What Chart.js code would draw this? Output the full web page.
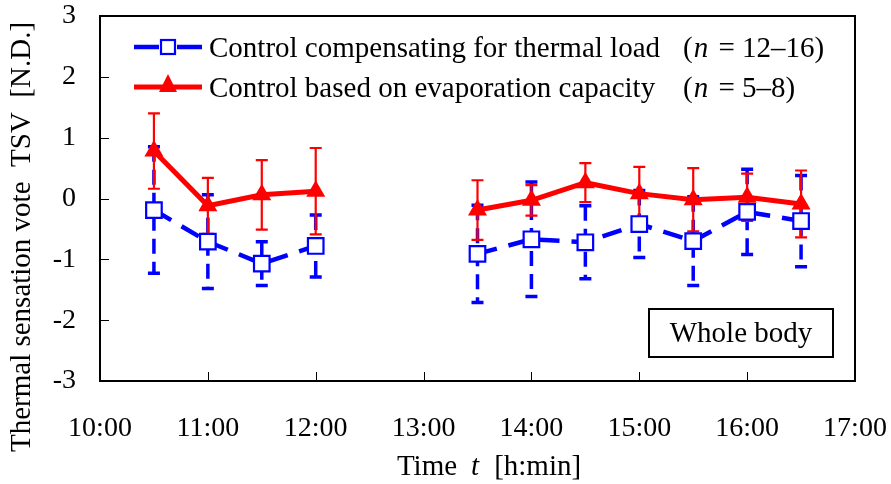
<!DOCTYPE html>
<html>
<head>
<meta charset="utf-8">
<script src="https://cdn.jsdelivr.net/npm/chart.js@4.4.1/dist/chart.umd.min.js"></script>
<style>
  html, body { margin: 0; padding: 0; background: #ffffff; }
  #wrap { width: 891px; height: 484px; position: relative; }
</style>
</head>
<body>
<div id="wrap"><canvas id="c" width="891" height="484"></canvas></div>
<script>
// ---- data ----
const times = ['10:30','11:00','11:30','12:00','13:30','14:00','14:30','15:00','15:30','16:00','16:30'];
const blueMean = [-0.19, -0.71, -1.07, -0.78, -0.91, -0.67, -0.72, -0.42, -0.70, -0.22, -0.37];
const blueSD   = [ 1.04,  0.77,  0.36,  0.51,  0.80,  0.94,  0.60,  0.55,  0.73,  0.70,  0.75];
const redMean  = [ 0.78, -0.12,  0.06,  0.12, -0.19, -0.03,  0.26,  0.08, -0.02,  0.02, -0.09];
const redSD    = [ 0.62,  0.46,  0.57,  0.71,  0.49,  0.25,  0.32,  0.44,  0.52,  0.39,  0.55];
const xTicks = ['10:00','11:00','12:00','13:00','14:00','15:00','16:00','17:00'];
const yTicks = [-3, -2, -1, 0, 1, 2, 3];
const blueLabel = 'Control compensating for thermal load';
const redLabel = 'Control based on evaporation capacity';
const blueN = ' = 12\u201316)';
const redN = ' = 5\u20138)';
const panelLabel = 'Whole body';
const yTitle = 'Thermal sensation vote  TSV  [N.D.]';

const FONT = '"Liberation Serif", "Times New Roman", serif';
const BLUE = '#0000ff';
const RED = '#ff0000';

function toHours(s) { const p = s.split(':'); return +p[0] + (+p[1]) / 60; }
function fmtHour(v) { const h = Math.floor(v); const m = Math.round((v - h) * 60); return h + ':' + (m < 10 ? '0' + m : m); }
const xs = times.map(toHours);
const xMin = toHours(xTicks[0]), xMax = toHours(xTicks[xTicks.length - 1]);

const bluePts = xs.map((x, i) => ({ x: x, y: blueMean[i] }));
const redPts = xs.map((x, i) => ({ x: x, y: redMean[i] }));

function gapColor(color) {
  return ctx => (ctx.p1.parsed.x - ctx.p0.parsed.x > 1.01 ? 'rgba(0,0,0,0)' : color);
}
function noPad(s) { s.paddingTop = 0; s.paddingBottom = 0; s.paddingLeft = 0; s.paddingRight = 0; }

const errorBars = {
  id: 'errorBars',
  beforeDatasetsDraw(chart) {
    const { ctx, scales: { x, y } } = chart;
    const draw = (means, sds, color, width, dash, cap, capW) => {
      ctx.save();
      ctx.strokeStyle = color;
      for (let i = 0; i < xs.length; i++) {
        const px = x.getPixelForValue(xs[i]);
        const top = y.getPixelForValue(means[i] + sds[i]);
        const bot = y.getPixelForValue(means[i] - sds[i]);
        ctx.lineWidth = width;
        ctx.setLineDash(dash);
        ctx.beginPath(); ctx.moveTo(px, top); ctx.lineTo(px, bot); ctx.stroke();
        ctx.setLineDash([]);
        ctx.lineWidth = capW;
        ctx.beginPath();
        ctx.moveTo(px - cap, top); ctx.lineTo(px + cap, top);
        ctx.moveTo(px - cap, bot); ctx.lineTo(px + cap, bot);
        ctx.stroke();
      }
      ctx.restore();
    };
    draw(blueMean, blueSD, BLUE, 3.5, [15, 8], 6, 3.5);
    draw(redMean, redSD, RED, 2.2, [], 6, 2.2);
  }
};

const decor = {
  id: 'decor',
  afterDraw(chart) {
    const { ctx, chartArea: a, scales: { x, y } } = chart;
    ctx.save();
    // frame top & right
    ctx.strokeStyle = '#000'; ctx.lineWidth = 2;
    ctx.beginPath();
    ctx.moveTo(a.left, a.top); ctx.lineTo(a.right, a.top); ctx.lineTo(a.right, a.bottom);
    ctx.stroke();
    // inner ticks
    ctx.lineWidth = 1;
    ctx.beginPath();
    yTicks.forEach(v => {
      if (v === yTicks[0] || v === yTicks[yTicks.length - 1]) return;
      const py = Math.round(y.getPixelForValue(v)) + 0.5;
      ctx.moveTo(a.left, py); ctx.lineTo(a.left + 9, py);
    });
    xTicks.forEach((t, i) => {
      if (i === 0 || i === xTicks.length - 1) return;
      const px = Math.round(x.getPixelForValue(toHours(t))) + 0.5;
      ctx.moveTo(px, a.bottom); ctx.lineTo(px, a.bottom - 9);
    });
    ctx.stroke();

    // legend
    const lx0 = 134, lx1 = 202, mx = 168, ry1 = 47, ry2 = 87;
    ctx.lineWidth = 4.5; ctx.strokeStyle = BLUE;
    ctx.beginPath(); ctx.moveTo(lx0, ry1); ctx.lineTo(mx - 9, ry1); ctx.moveTo(mx + 9, ry1); ctx.lineTo(lx1, ry1); ctx.stroke();
    ctx.lineWidth = 2.2; ctx.fillStyle = '#fff';
    ctx.fillRect(mx - 7, ry1 - 7, 14, 14); ctx.strokeRect(mx - 7, ry1 - 7, 14, 14);
    ctx.lineWidth = 5; ctx.strokeStyle = RED;
    ctx.beginPath(); ctx.moveTo(lx0, ry2); ctx.lineTo(lx1, ry2); ctx.stroke();
    ctx.fillStyle = RED;
    ctx.beginPath(); ctx.moveTo(mx, ry2 - 13); ctx.lineTo(mx + 9, ry2 + 5); ctx.lineTo(mx - 9, ry2 + 5); ctx.closePath(); ctx.fill();

    ctx.fillStyle = '#000';
    ctx.textBaseline = 'alphabetic';
    const LF = '29px ' + FONT;
    ctx.font = LF;
    const tx = 209, nx = 683;
    ctx.fillText(blueLabel, tx, ry1 + 10);
    ctx.fillText(redLabel, tx, ry2 + 10);
    const drawN = (rest, yy) => {
      ctx.font = LF;
      ctx.fillText('(', nx, yy);
      let w = ctx.measureText('(').width;
      ctx.font = 'italic ' + LF;
      ctx.fillText('n', nx + w + 1, yy);
      w += ctx.measureText('n').width + 1;
      ctx.font = LF;
      ctx.fillText(rest, nx + w + 3, yy);
    };
    drawN(blueN, ry1 + 10);
    drawN(redN, ry2 + 10);

    // panel label box
    ctx.lineWidth = 2; ctx.strokeStyle = '#000';
    ctx.fillStyle = '#fff';
    ctx.fillRect(649, 309, 184, 48);
    ctx.strokeRect(649, 309, 184, 48);
    ctx.fillStyle = '#000';
    ctx.textAlign = 'center'; ctx.textBaseline = 'middle';
    ctx.font = '29px ' + FONT;
    ctx.fillText(panelLabel, 741, 334);

    // y title
    ctx.save();
    ctx.translate(22, 237);
    ctx.rotate(-Math.PI / 2);
    ctx.font = '29px ' + FONT;
    ctx.fillText(yTitle, 0, 0);
    ctx.restore();

    // x title: Time  t  [h:min]
    ctx.textAlign = 'left'; ctx.textBaseline = 'alphabetic';
    const parts = [['Time', ''], ['t', 'italic '], ['[h:min]', '']];
    const gaps = [14, 15];
    let total = 0;
    parts.forEach((p, i) => { ctx.font = p[1] + '29px ' + FONT; total += ctx.measureText(p[0]).width + (i < gaps.length ? gaps[i] : 0); });
    let cx = 489 - total / 2;
    parts.forEach((p, i) => {
      ctx.font = p[1] + '29px ' + FONT;
      ctx.fillText(p[0], cx, 475);
      cx += ctx.measureText(p[0]).width + (i < gaps.length ? gaps[i] : 0);
    });
    ctx.restore();
  }
};

new Chart(document.getElementById('c'), {
  type: 'line',
  data: {
    datasets: [
      {
        label: blueLabel,
        data: bluePts,
        order: 1,
        borderColor: BLUE,
        borderWidth: 4.5,
        borderDash: [20, 12],
        segment: { borderColor: gapColor(BLUE) },
        pointStyle: 'rect',
        pointRadius: 11,
        pointBorderWidth: 2.2,
        pointBackgroundColor: '#ffffff',
        pointBorderColor: BLUE,
        tension: 0
      },
      {
        label: redLabel,
        data: redPts,
        order: 0,
        borderColor: RED,
        borderWidth: 5,
        segment: { borderColor: gapColor(RED) },
        pointStyle: 'triangle',
        pointRadius: 11,
        pointBorderWidth: 0,
        pointBackgroundColor: RED,
        pointBorderColor: RED,
        tension: 0
      }
    ]
  },
  options: {
    responsive: false,
    animation: false,
    devicePixelRatio: 1,
    layout: { padding: { left: 0, right: 36, top: 16, bottom: 0 } },
    plugins: { legend: { display: false }, tooltip: { enabled: false } },
    scales: {
      x: {
        type: 'linear',
        min: xMin, max: xMax,
        afterFit: s => { s.height = 103; noPad(s); },
        afterBuildTicks: s => { s.ticks = xTicks.map(t => ({ value: toHours(t) })); },
        ticks: { callback: v => fmtHour(v), color: '#000', font: { family: FONT, size: 28 }, padding: 31, maxRotation: 0, autoSkip: false },
        grid: { display: false, drawTicks: false },
        border: { display: true, color: '#000', width: 2 }
      },
      y: {
        min: yTicks[0], max: yTicks[yTicks.length - 1],
        afterFit: s => { s.width = 100; noPad(s); },
        afterBuildTicks: s => { s.ticks = yTicks.map(v => ({ value: v })); },
        ticks: { callback: v => String(v), color: '#000', font: { family: FONT, size: 28 }, padding: 24 },
        grid: { display: false, drawTicks: false },
        border: { display: true, color: '#000', width: 2 }
      }
    }
  },
  plugins: [errorBars, decor]
});
</script>
</body>
</html>
